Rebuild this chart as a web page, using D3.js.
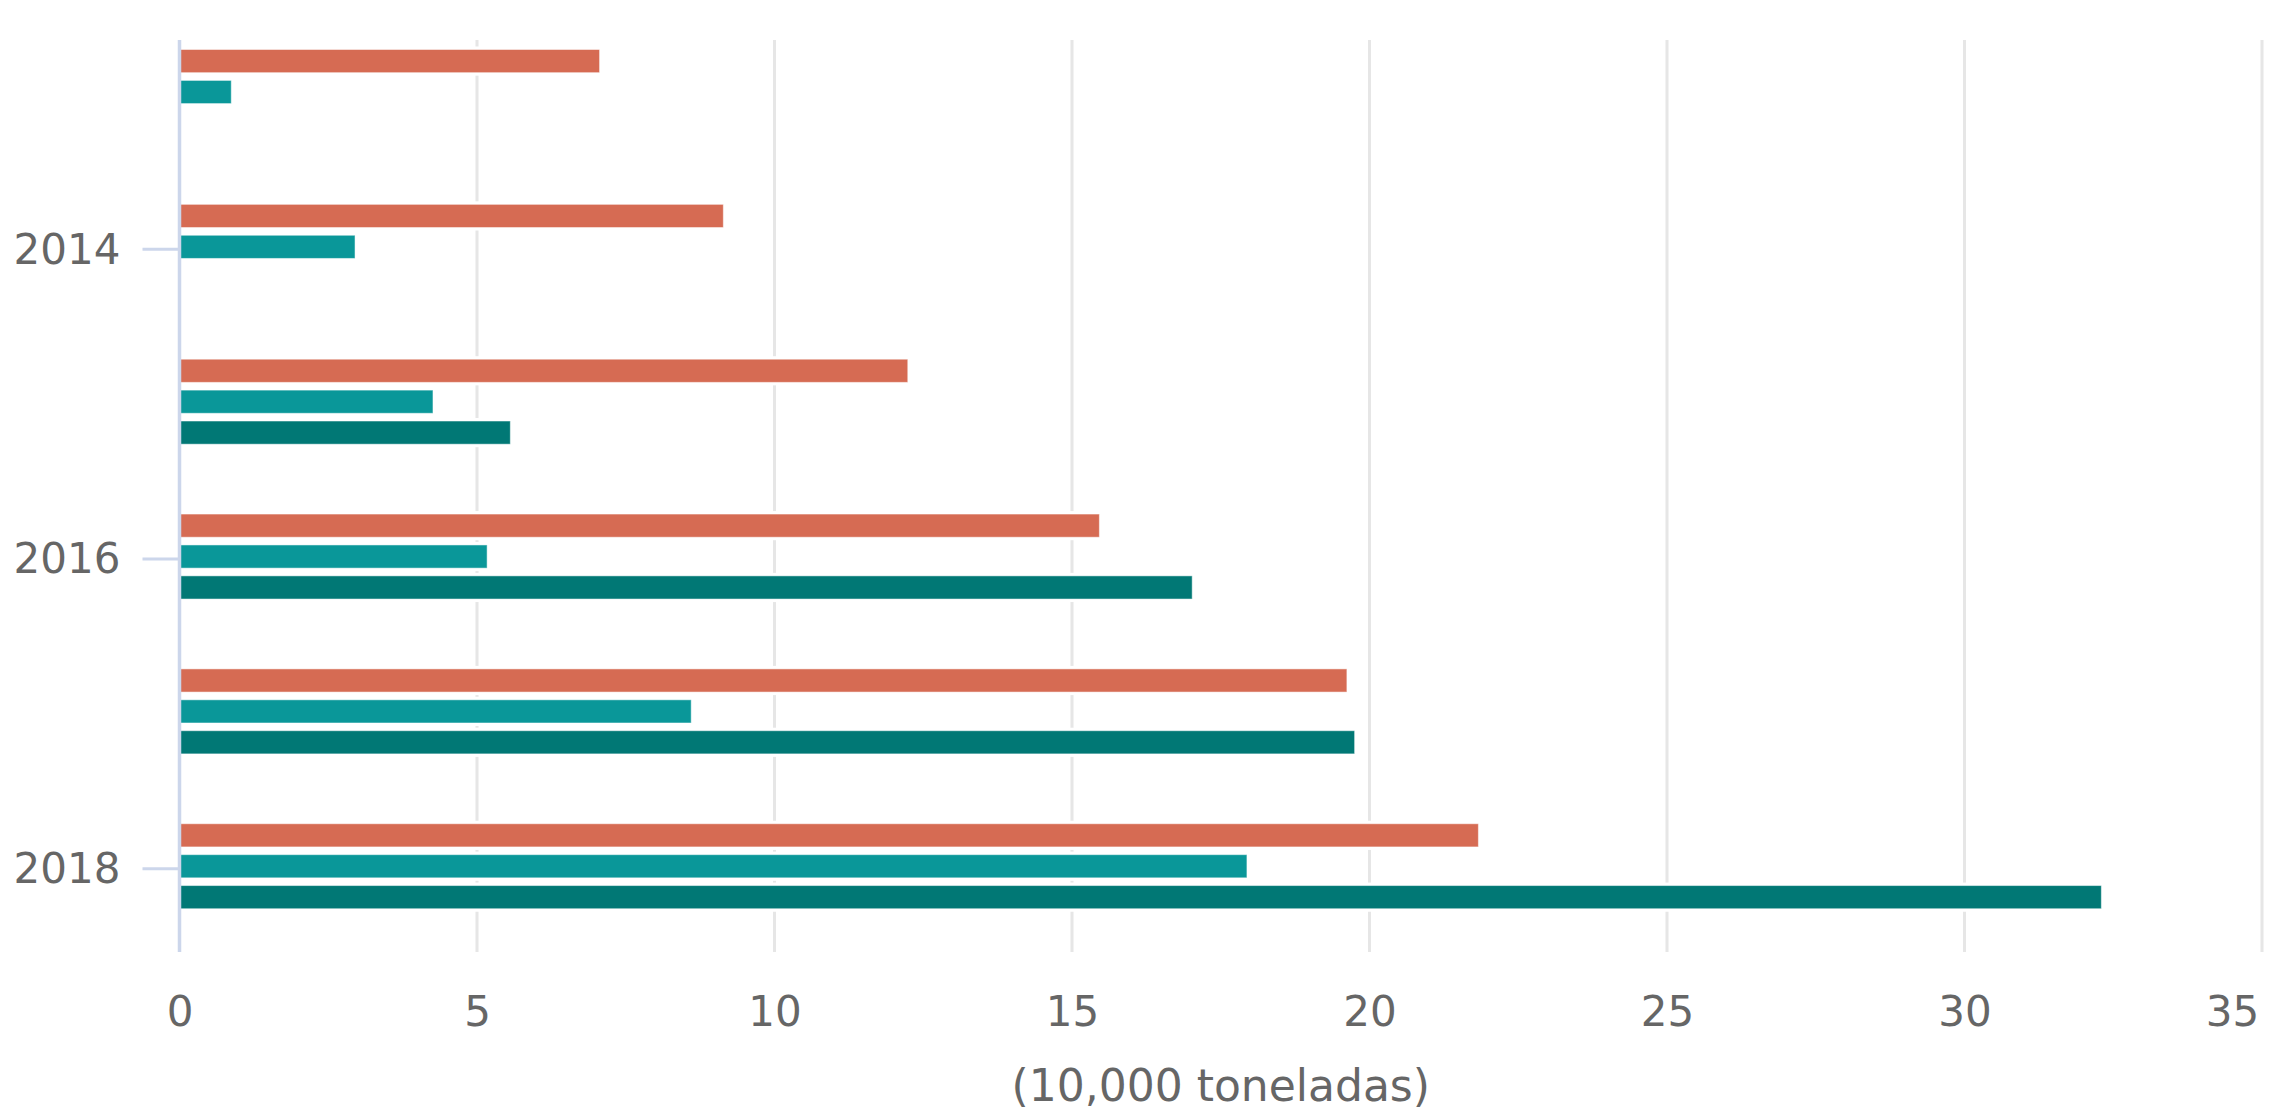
<!DOCTYPE html>
<html>
<head>
<meta charset="utf-8">
<script src="https://cdn.jsdelivr.net/npm/d3@7"></script>
<style>
  html, body { margin: 0; padding: 0; background: #ffffff; }
  svg { display: block; }
  text { font-family: "DejaVu Sans", Verdana, sans-serif; fill: #666666; }
</style>
</head>
<body>
<svg id="chart" width="2287" height="1114"></svg>
<script>
// ---- data ----
const years = ["2013", "2014", "2015", "2016", "2017", "2018"];
const yearTicks = ["2014", "2016", "2018"];
const seriesNames = ["s1", "s2", "s3"];
const seriesColors = ["#d66b53", "#0a9799", "#017875"];
const s1 = [7.06, 9.14, 12.24, 15.46, 19.62, 21.83];
const s2 = [0.87, 2.95, 4.26, 5.17, 8.60, 17.94];
const s3 = [null, null, 5.56, 17.02, 19.75, 32.3];
const xTicks = [0, 5, 10, 15, 20, 25, 30, 35];
const xTitle = "(10,000 toneladas)";

const seriesValues = [s1, s2, s3];

// ---- layout ----
const plotLeft = 179.5, plotRight = 2262;
const plotTop = 40, plotBottom = 952;
const fontSize = 42;
const fontFam = '"DejaVu Sans", Verdana, sans-serif';

const svg = d3.select("#chart");

const x = d3.scaleLinear().domain([0, 35]).range([plotLeft, plotRight]);
const y = d3.scaleBand().domain(years).range([94 - 77.43, 94 - 77.43 + 154.85 * 6]).paddingInner(0).paddingOuter(0);
const yInner = d3.scaleBand().domain(seriesNames).range([-44.5, 40.5]).paddingInner(0.25).paddingOuter(0);

// gridlines
svg.append("g")
  .selectAll("line")
  .data(xTicks.filter(d => d !== 0))
  .join("line")
  .attr("x1", d => x(d)).attr("x2", d => x(d))
  .attr("y1", plotTop).attr("y2", plotBottom)
  .attr("stroke", "#e6e6e6").attr("stroke-width", 3);

// bars
const rows = [];
years.forEach((yr, i) => {
  seriesNames.forEach((s, j) => {
    const v = seriesValues[j][i];
    if (v !== null && v !== undefined) rows.push({ year: yr, series: s, value: v, color: seriesColors[j] });
  });
});

const barY = d => y(d.year) + y.bandwidth() / 2 + yInner(d.series);

// white halo under bars (cuts the gridlines like the reference border)
svg.append("g")
  .selectAll("rect")
  .data(rows)
  .join("rect")
  .attr("x", x(0) + 1)
  .attr("y", d => barY(d) - 3)
  .attr("width", d => x(d.value) - x(0) + 2)
  .attr("height", yInner.bandwidth() + 6)
  .attr("fill", "#ffffff");

svg.append("g")
  .selectAll("rect")
  .data(rows)
  .join("rect")
  .attr("x", x(0) + 1)
  .attr("y", d => barY(d))
  .attr("width", d => x(d.value) - x(0) - 1)
  .attr("height", yInner.bandwidth())
  .attr("fill", d => d.color)
  .attr("stroke", "#ffffff")
  .attr("stroke-opacity", 0.5)
  .attr("stroke-width", 1);

// category axis (left)
const yAxisScale = d3.scalePoint().domain(years).range([y("2013") + y.bandwidth() / 2, y("2018") + y.bandwidth() / 2]);
const gy = svg.append("g")
  .attr("transform", `translate(${plotLeft},0)`)
  .call(d3.axisLeft(yAxisScale).tickValues(yearTicks).tickSize(37).tickPadding(22));
gy.select(".domain").remove();
gy.selectAll(".tick line").attr("stroke", "#ccd6eb").attr("stroke-width", 3);
gy.selectAll(".tick text")
  .attr("fill", "#666666")
  .attr("dy", "0.34em")
  .style("font-size", fontSize + "px")
  .style("font-family", fontFam);

// axis line
svg.append("line")
  .attr("x1", plotLeft).attr("x2", plotLeft)
  .attr("y1", plotTop).attr("y2", plotBottom)
  .attr("stroke", "#ccd6eb").attr("stroke-width", 3.5);

// value axis (bottom)
const gx = svg.append("g")
  .attr("transform", `translate(0,${plotBottom})`)
  .call(d3.axisBottom(x).tickValues(xTicks).tickSize(0).tickFormat(d3.format("d")));
gx.select(".domain").remove();
gx.selectAll(".tick text")
  .attr("y", 74)
  .attr("dy", 0)
  .attr("dx", d => d === 35 ? -30 : 0)
  .attr("fill", "#666666")
  .style("font-size", fontSize + "px")
  .style("font-family", fontFam);

// axis title
svg.append("text")
  .attr("x", (plotLeft + plotRight) / 2)
  .attr("y", 1101)
  .attr("text-anchor", "middle")
  .style("font-size", "44px")
  .style("font-family", fontFam)
  .attr("fill", "#666666")
  .text(xTitle);
</script>
</body>
</html>
